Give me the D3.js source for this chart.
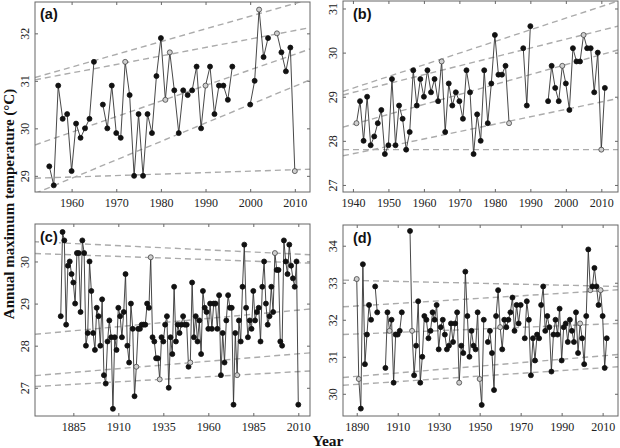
<!DOCTYPE html>
<html><head><meta charset="utf-8">
<script src="https://cdn.jsdelivr.net/npm/d3@7"></script>
<style>body{margin:0;background:#fff}</style>
</head><body>
<svg id="c" width="620" height="448"></svg>
<script>
// ---------- DATA ----------
// (a)
const startA = 1955;
const tempA = [29.2,28.8,30.9,30.2,30.3,29.1,30.1,29.8,30.0,30.2,
  31.4,null,30.5,30.0,30.9,29.9,29.8,31.4,30.7,29.0,
  30.3,29.0,30.3,29.9,31.1,31.9,30.6,31.6,30.8,29.9,
  30.8,30.7,30.8,31.3,30.0,30.9,31.3,30.3,30.9,30.9,
  30.6,31.3,null,null,null,30.5,31.0,32.5,31.5,31.9,
  null,32.0,31.6,31.2,31.7,29.1];
const openA = [1972,1981,1982,1990,2002,2006,2010];
const trendA = [[1951.8,31.07,2013.4,32.72],[1951.8,31.02,2013.4,32.12],[1951.8,29.65,2013.4,31.67],[1951.8,28.63,2013.4,31.02],[1951.8,28.95,2013.4,29.14]];
const xTicksA = [1960,1970,1980,1990,2000,2010];
const yTicksA = [29,30,31,32];

// (b)
const startB = 1941;
const tempB = [28.4,28.9,28.0,29.0,27.9,28.1,28.4,28.7,27.7,27.9,
  29.4,27.9,28.8,28.5,27.8,28.2,29.6,28.8,29.4,29.0,
  29.6,29.1,29.4,28.9,29.8,28.2,29.3,28.8,29.1,28.9,
  28.5,29.6,29.1,27.7,28.6,28.0,29.6,28.4,29.3,30.4,
  29.5,29.5,29.7,28.4,null,null,null,30.1,28.8,30.6,
  null,null,null,null,28.9,29.7,29.2,28.9,29.7,29.3,
  28.7,30.1,29.8,29.8,30.4,30.1,30.1,29.1,30.0,27.8,
  29.2];
const openB = [1941,1965,1984,1999,2005,2010];
const trendB = [[1937.2,29.12,2014.7,31.17],[1937.2,29.04,2014.7,30.6],[1937.2,28.31,2014.7,30.06],[1937.2,27.66,2014.7,28.96],[1937.2,27.8,2014.7,27.8]];
const xTicksB = [1940,1950,1960,1970,1980,1990,2000,2010];
const yTicksB = [27,28,29,30,31];

// (c)
const startC = 1878;
const tempC = [28.7,30.7,30.5,28.5,29.9,30.0,29.7,29.5,29.0,30.2,
  30.2,28.8,30.5,30.2,28.0,28.3,30.0,29.3,28.3,27.9,
  28.9,28.7,28.0,29.1,27.3,27.1,28.1,28.6,28.2,26.5,
  28.2,27.9,28.9,28.7,28.2,28.8,29.7,28.0,27.6,29.0,
  28.4,26.8,27.5,28.4,28.4,28.5,28.5,28.5,29.0,28.9,
  30.1,28.2,28.1,27.7,27.7,27.2,28.2,28.1,28.5,28.7,
  27.0,28.2,27.8,29.4,28.1,28.5,28.3,28.5,28.7,28.5,
  28.5,27.5,27.6,29.5,28.2,28.7,28.1,28.6,27.8,29.3,
  28.9,28.8,28.4,29.0,28.4,29.0,29.0,28.4,29.2,27.3,
  28.3,27.6,28.6,29.2,28.9,28.9,26.6,28.3,27.3,28.6,
  28.1,29.4,30.4,28.9,28.2,28.6,28.4,29.3,28.6,28.8,
  28.9,28.1,29.4,30.0,29.0,28.5,28.7,29.4,28.8,30.2,
  29.8,29.8,28.1,28.0,30.5,30.0,29.7,30.4,29.9,29.6,
  29.4,30.0,26.6];
const openC = [1920,1928,1933,1950,1976,1997];
const trendC = [[1863.7,30.47,2016.5,30.16],[1863.7,30.19,2016.5,29.96],[1863.7,28.27,2016.5,28.87],[1863.7,27.29,2016.5,27.83],[1863.7,27.03,2016.5,27.4]];
const xTicksC = [1885,1910,1935,1960,1985,2010];
const yTicksC = [27,28,29,30];

// (d)
const startD = 1890;
const tempD = [33.1,30.4,29.6,33.5,30.8,31.6,32.4,32.0,null,32.9,
  32.2,null,null,null,30.7,32.2,31.7,32.0,30.3,31.6,
  31.6,31.7,32.2,null,null,null,34.4,31.7,30.5,31.3,
  32.5,30.3,31.0,32.1,32.0,31.5,31.7,32.2,32.0,32.4,
  31.2,31.8,32.0,31.6,31.2,31.3,31.9,31.4,31.9,32.2,
  30.3,31.3,31.1,33.3,32.1,31.0,31.7,31.3,31.2,32.2,
  30.4,29.7,32.0,null,31.4,31.7,31.1,30.1,32.1,32.8,
  31.8,31.2,32.0,31.8,32.0,32.2,32.6,31.7,32.4,31.9,
  32.4,null,31.5,32.5,32.0,30.5,31.5,30.9,31.6,31.5,
  32.4,32.9,31.7,32.1,31.8,30.6,31.6,32.0,31.6,32.3,
  30.9,31.8,31.9,31.4,32.0,31.7,31.4,32.2,31.1,31.9,
  31.5,30.8,32.1,33.9,32.8,32.9,33.4,32.9,32.4,32.8,
  32.1,30.7,31.5];
const openD = [1890,1891,1906,1917,1940,1950,1960,1999,2004,2009];
const trendD = [[1883.3,33.07,2017.5,32.9],[1883.3,32.35,2017.5,32.81],[1883.3,31.6,2017.5,31.9],[1883.3,30.44,2017.5,31.06],[1883.3,30.23,2017.5,30.73]];
const xTicksD = [1890,1910,1930,1950,1970,1990,2010];
const yTicksD = [30,31,32,33,34];

const panelLabels = ["(a)","(b)","(c)","(d)"];
const yTitle = "Annual maximum temperature (°C)";
const xTitle = "Year";

// ---------- LAYOUT ----------
const panels = [
  {label:panelLabels[0], start:startA, vals:tempA, open:openA, trends:trendA, xt:xTicksA, yt:yTicksA,
   xDom:[1951.8,2013.4], yDom:[28.66,32.66], box:[35,310,2,192], lab:[40,19]},
  {label:panelLabels[1], start:startB, vals:tempB, open:openB, trends:trendB, xt:xTicksB, yt:yTicksB,
   xDom:[1937.2,2014.7], yDom:[26.84,31.17], box:[343,618,1,192], lab:[353,19]},
  {label:panelLabels[2], start:startC, vals:tempC, open:openC, trends:trendC, xt:xTicksC, yt:yTicksC,
   xDom:[1863.7,2016.5], yDom:[26.33,30.89], box:[35,310,224,416], lab:[40,242]},
  {label:panelLabels[3], start:startD, vals:tempD, open:openD, trends:trendD, xt:xTicksD, yt:yTicksD,
   xDom:[1883.3,2017.5], yDom:[29.40,34.56], box:[343,618,225,416], lab:[353,243]}
];

const svg = d3.select("#c");
const defs = svg.append("defs");
const serif = "'Liberation Serif','Times New Roman',serif";
const frameCol = "#666";

panels.forEach((p,i)=>{
  const [x0,x1,y0,y1] = p.box;
  const x = d3.scaleLinear().domain(p.xDom).range([x0,x1]);
  const y = d3.scaleLinear().domain(p.yDom).range([y1,y0]);
  const g = svg.append("g");
  const cid = "clip"+i;
  defs.append("clipPath").attr("id",cid).append("rect")
    .attr("x",x0).attr("y",y0).attr("width",x1-x0).attr("height",y1-y0);

  // axes (ticks inward)
  const tk = 3;
  const xb = g.append("g").attr("transform",`translate(0,${y1})`)
    .call(d3.axisBottom(x).tickValues(p.xt).tickSize(-tk).tickPadding(6).tickFormat(d3.format("d")));
  const xtop = g.append("g").attr("transform",`translate(0,${y0})`)
    .call(d3.axisTop(x).tickValues(p.xt).tickSize(-tk).tickFormat(""));
  const yl = g.append("g").attr("transform",`translate(${x0},0)`)
    .call(d3.axisLeft(y).tickValues(p.yt).tickSize(-tk).tickFormat(d3.format("d")));
  const yr = g.append("g").attr("transform",`translate(${x1},0)`)
    .call(d3.axisRight(y).tickValues(p.yt).tickSize(-tk).tickFormat(""));
  [xb,xtop,yl,yr].forEach(a=>{
    a.select(".domain").remove();
    a.selectAll("line").attr("stroke",frameCol);
    a.selectAll("text").attr("font-family",serif).attr("font-size",12).attr("fill","#222");
  });
  yl.selectAll("text")
    .attr("x",0).attr("dy",0).attr("text-anchor","middle")
    .attr("transform","translate(-6.5,0) rotate(-90)");

  // trend (quantile) lines
  g.append("g").attr("clip-path",`url(#${cid})`)
    .selectAll("line").data(p.trends).join("line")
    .attr("x1",d=>x(d[0])).attr("y1",d=>y(d[1]))
    .attr("x2",d=>x(d[2])).attr("y2",d=>y(d[3]))
    .attr("stroke","#ababab").attr("stroke-width",1.4).attr("stroke-dasharray","6,4");

  // series
  const pts = p.vals.map((v,k)=>({yr:p.start+k, v}));
  const line = d3.line().defined(d=>d.v!=null).x(d=>x(d.yr)).y(d=>y(d.v));
  g.append("path").attr("d",line(pts)).attr("fill","none")
    .attr("stroke","#333").attr("stroke-width",0.9);
  g.append("g").selectAll("circle").data(pts.filter(d=>d.v!=null)).join("circle")
    .attr("cx",d=>x(d.yr)).attr("cy",d=>y(d.v)).attr("r",2.5)
    .attr("fill",d=>p.open.includes(d.yr)?"#cfcfcf":"#111")
    .attr("stroke",d=>p.open.includes(d.yr)?"#444":"#111").attr("stroke-width",0.8);

  // frame
  g.append("rect").attr("x",x0).attr("y",y0).attr("width",x1-x0).attr("height",y1-y0)
    .attr("fill","none").attr("stroke",frameCol).attr("stroke-width",1);

  // panel label with white background
  const lg = g.append("g");
  const bgRect = lg.append("rect").attr("fill","#fff");
  const lt = lg.append("text").attr("x",p.lab[0]).attr("y",p.lab[1])
    .attr("font-family","'Liberation Sans',Arial,sans-serif").attr("font-weight","bold")
    .attr("font-size",14.5).attr("fill","#111").text(p.label);
  const bb = lt.node().getBBox();
  bgRect.attr("x",bb.x-1).attr("y",bb.y+1).attr("width",bb.width+2).attr("height",bb.height-2);
});

// titles
svg.append("text").attr("transform","translate(14,204) rotate(-90)")
  .attr("text-anchor","middle").attr("font-family",serif).attr("font-weight","bold")
  .attr("font-size",15).attr("fill","#111").text(yTitle);
svg.append("text").attr("x",328).attr("y",446).attr("text-anchor","middle")
  .attr("font-family",serif).attr("font-weight","bold").attr("font-size",15.5).attr("fill","#111").text(xTitle);
</script>
</body></html>
